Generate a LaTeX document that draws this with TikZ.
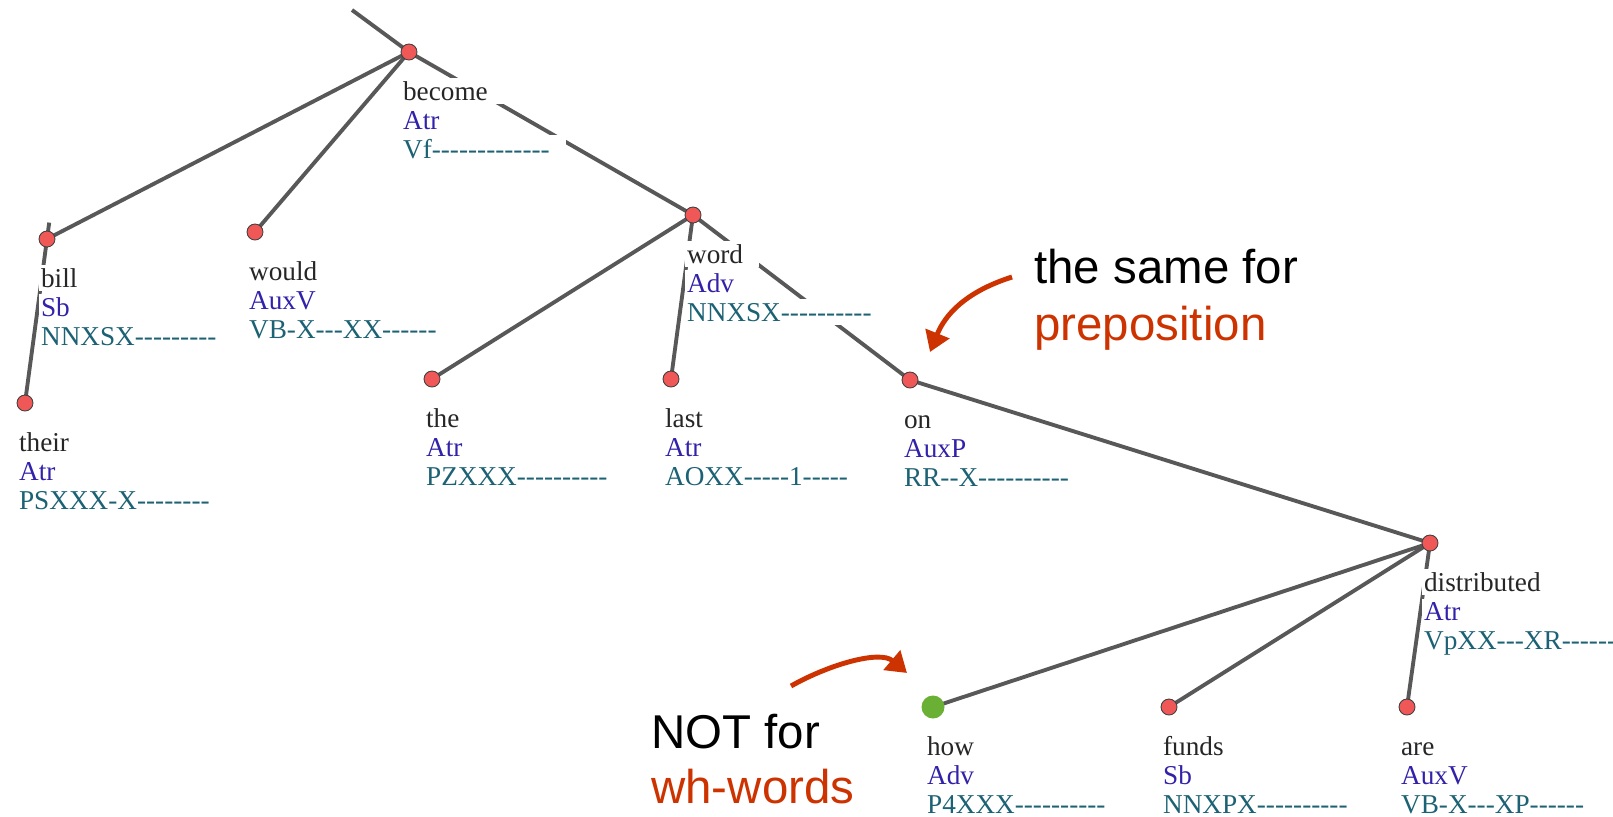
\documentclass[tikz,border=0pt]{standalone}
\usepackage{fontspec}
\setmainfont{Liberation Serif}[Ligatures=TeXOff]
\newfontfamily\notefont{Liberation Sans}
\usetikzlibrary{calc, arrows.meta, backgrounds}

\definecolor{edgegray}{RGB}{88,88,88}
\definecolor{nodered}{RGB}{240,88,88}
\definecolor{nodegreen}{RGB}{106,176,52}
\definecolor{afunblue}{RGB}{50,34,170}
\definecolor{tagteal}{RGB}{28,98,116}
\definecolor{notered}{RGB}{204,51,0}

\begin{document}
\begin{tikzpicture}[x=0.02cm, y=-0.02cm,
    edge/.style={draw=edgegray, line width=2.2pt},
    dot/.style={circle, fill=nodered, draw=black!75, line width=0.5pt, inner sep=0pt, minimum size=0.32cm},
    row/.style={anchor=base west, fill=white, inner xsep=1pt, inner ysep=2pt,
      font=\fontsize{15.5}{17}\selectfont, execute at end node=\hspace{8pt}},
    note/.style={anchor=base west, inner sep=0pt, font=\notefont\fontsize{27}{30}\selectfont},
    hint/.style={notered, line width=2.8pt, -{Triangle[length=0.4cm, width=0.5cm]}}]
  \useasboundingbox (0,0) rectangle (1613,816);
  % tree nodes (positions in pixels, y downwards)
  \coordinate (top) at (352,10);
  \foreach \n/\x/\y in {become/409/52, bill/47/239, would/255/232, their/25/403,
      word/693/215, the/432/379, last/671/379, on/910/380,
      distributed/1430/543, funds/1169/707, are/1407/707}
    \node[dot] (\n) at (\x,\y) {};
  \node[dot, fill=nodegreen, draw=none, minimum size=0.46cm] (how) at (933,707) {};
  % edges go under the dots and the label rows
  \begin{pgfonlayer}{background}
    \draw[edge] (top) -- (become.center);
    \foreach \a/\b in {become/bill, become/would, become/word, bill/their,
        word/the, word/last, word/on, on/distributed,
        distributed/how, distributed/funds, distributed/are}
      \draw[edge] (\a.center) -- (\b.center);
    % the line to their runs on a little past bill
    \draw[edge] (bill.center) -- ($(their)!1.1!(bill)$);
  \end{pgfonlayer}
  % word / function / tag under each node, white rows cut the edges
  \foreach \n/\w/\fn/\tg in {become/become/Atr/Vf-------------,
      bill/bill/Sb/NNXSX---------, would/would/AuxV/VB-X---XX------,
      their/their/Atr/PSXXX-X--------, word/word/Adv/NNXSX----------,
      the/the/Atr/PZXXX----------, last/last/Atr/AOXX-----1-----,
      on/on/AuxP/RR--X----------, distributed/distributed/Atr/VpXX---XR------,
      how/how/Adv/P4XXX----------, funds/funds/Sb/NNXPX----------,
      are/are/AuxV/VB-X---XP------} {
    \node[row, text=black!85] (\n-w) at ($(\n)+(-8,48)$) {\w};
    \node[row, text=afunblue] (\n-f) at ($(\n)+(-8,77)$) {\fn};
    \node[row, text=tagteal] (\n-t) at ($(\n)+(-8,106)$) {\tg};
  }
  % notes
  \node[note] (same) at (1034,283) {the same for};
  \node[note, notered] (prep) at (1034,340) {preposition};
  \node[note] (notfor) at (651,748) {NOT for};
  \node[note, notered] (wh) at (651,803) {wh-words};
  \coordinate (samefrom) at (1012,277);
  \coordinate (onmark) at (930,352);
  \coordinate (notfrom) at (791,686);
  \coordinate (howmark) at (907,673);
  \draw[hint] (samefrom) .. controls +(-47,15) and +(15,-37) .. (onmark);
  \draw[hint] (notfrom) .. controls +(39,-22) and +(-27,-23) .. (howmark);
\end{tikzpicture}
\end{document}
